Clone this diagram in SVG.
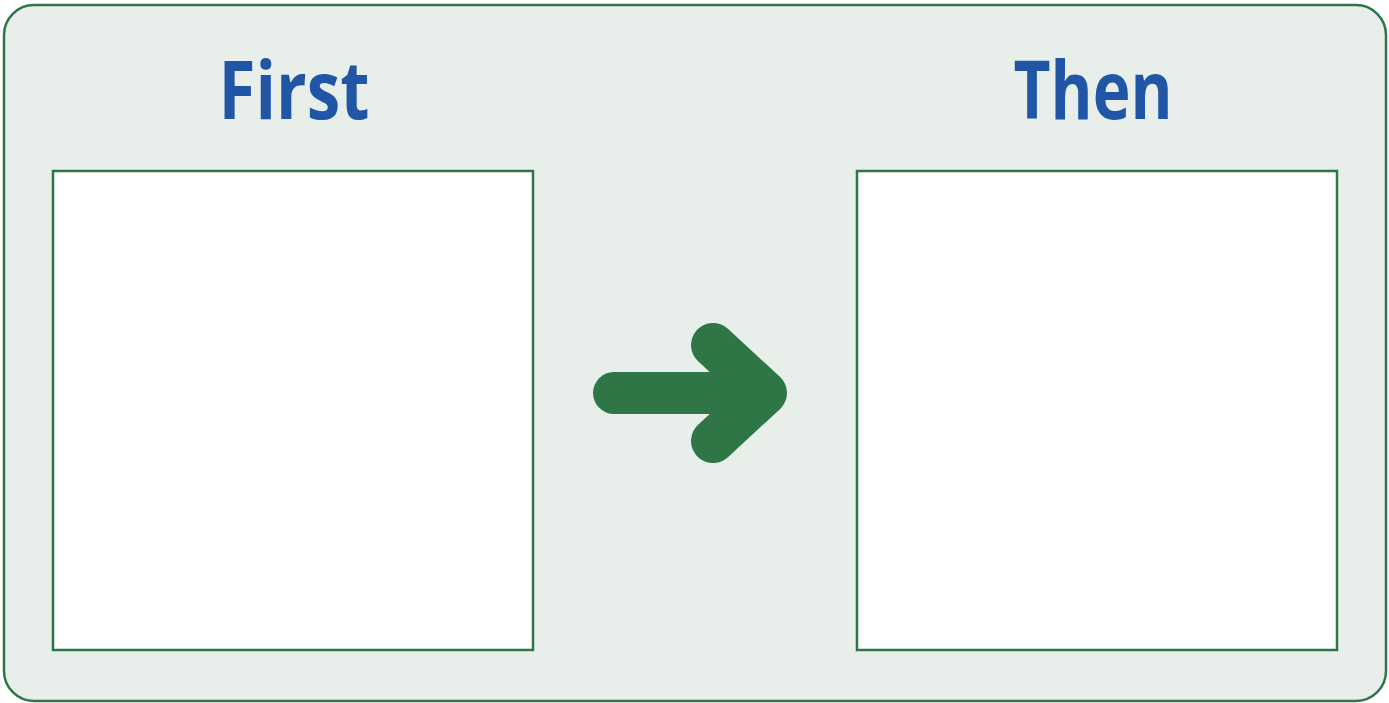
<svg xmlns="http://www.w3.org/2000/svg" width="1389" height="703" viewBox="0 0 1389 703">
<style>
.title{font-family:"Open Sans","Liberation Sans",sans-serif;font-weight:bold;font-size:80px;fill:#2155A6;text-anchor:middle}
.box{fill:#FFFFFF;stroke:#2E7645;stroke-width:2.5}
.arrow{fill:none;stroke:#2E7645;stroke-linecap:round;stroke-linejoin:round}
</style>
<rect x="4" y="5" width="1382" height="696" rx="30" ry="30" fill="#E8EFEA" stroke="#2E7645" stroke-width="2.5"/>
<g id="first">
<text class="title" x="294" y="119" textLength="151" lengthAdjust="spacingAndGlyphs">First</text>
<rect class="box" x="53" y="171" width="480" height="479"/>
</g>
<g id="then">
<text class="title" x="1093" y="119" textLength="159" lengthAdjust="spacingAndGlyphs">Then</text>
<rect class="box" x="857" y="171" width="480" height="479"/>
</g>
<g id="connectors">
<line class="arrow" x1="614" y1="393" x2="755" y2="393" stroke-width="42"/>
<polyline class="arrow" points="713,345 765,393 713,441" stroke-width="44"/>
</g>
</svg>
